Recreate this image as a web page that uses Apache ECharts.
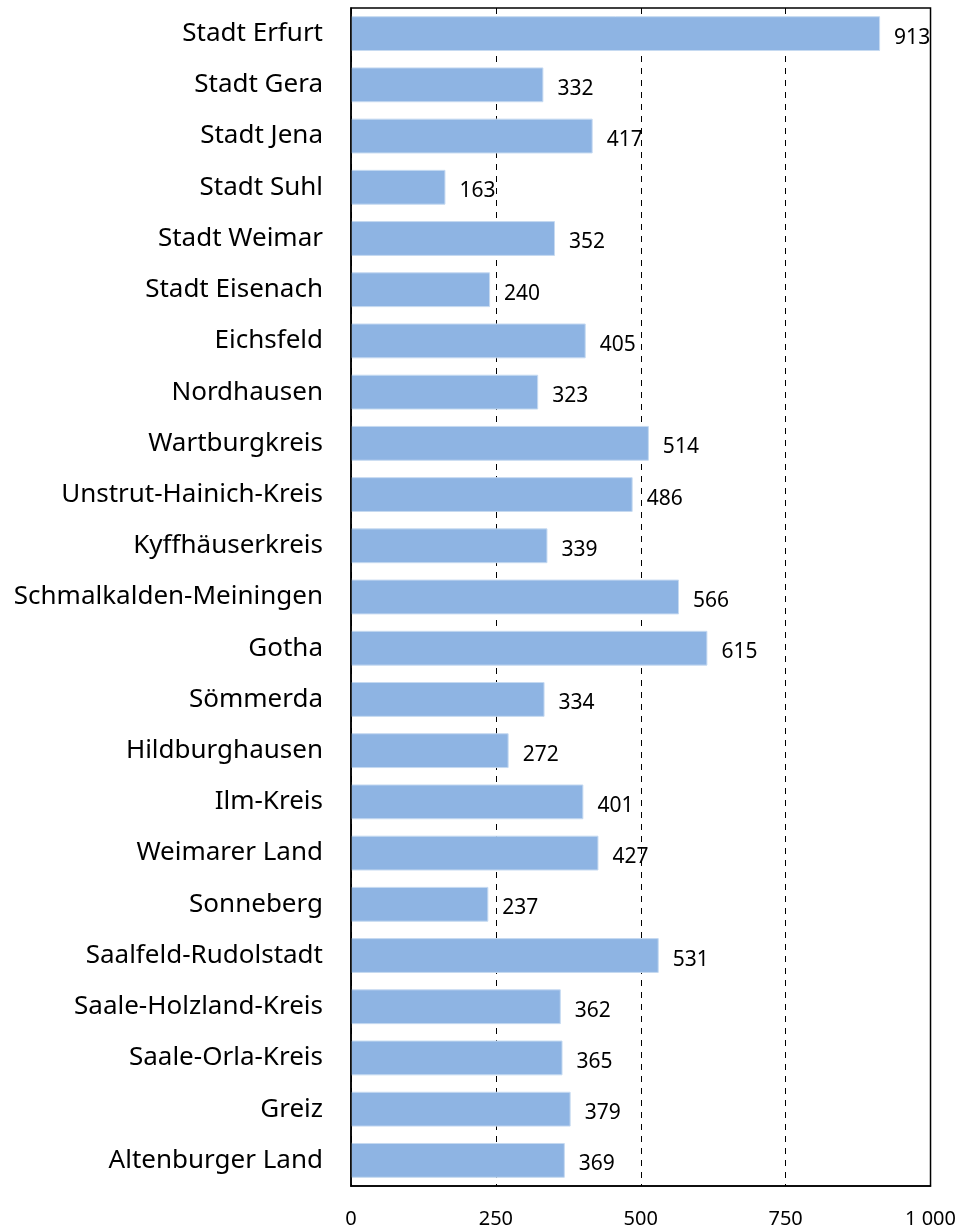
<!DOCTYPE html>
<html>
<head>
<meta charset="utf-8">
<script src="https://cdn.jsdelivr.net/npm/echarts@6/dist/echarts.min.js"></script>
<style>
  html, body { margin: 0; padding: 0; background: #fff; }
  #chart { width: 959px; height: 1229px; }
</style>
</head>
<body>
<div id="chart"></div>
<script>
const kreise = [
  'Stadt Erfurt', 'Stadt Gera', 'Stadt Jena', 'Stadt Suhl', 'Stadt Weimar',
  'Stadt Eisenach', 'Eichsfeld', 'Nordhausen', 'Wartburgkreis',
  'Unstrut-Hainich-Kreis', 'Kyffhäuserkreis', 'Schmalkalden-Meiningen',
  'Gotha', 'Sömmerda', 'Hildburghausen', 'Ilm-Kreis', 'Weimarer Land',
  'Sonneberg', 'Saalfeld-Rudolstadt', 'Saale-Holzland-Kreis',
  'Saale-Orla-Kreis', 'Greiz', 'Altenburger Land'
]
const werte = [
  913, 332, 417, 163, 352, 240, 405, 323, 514, 486, 339, 566,
  615, 334, 272, 401, 427, 237, 531, 362, 365, 379, 369
]
const xTicks = [0, 250, 500, 750, 1000]

const fontFam = '"Noto Sans", sans-serif'
const chart = echarts.init(document.getElementById('chart'))

const option = {
  animation: false,
  grid: { left: 351, right: 27, top: 8, bottom: 43, containLabel: false },
  xAxis: {
    type: 'value',
    min: xTicks[0],
    max: xTicks[xTicks.length - 1],
    interval: 250,
    axisLine: { show: true, lineStyle: { color: '#000', width: 1.5 } },
    axisTick: { show: false },
    axisLabel: {
      color: '#000', fontSize: 20, fontFamily: fontFam, margin: 23,
      formatter: (v) => v >= 1000 ? String(v).replace(/\B(?=(\d{3})+(?!\d))/g, ' ') : String(v)
    },
    splitLine: { show: true, lineStyle: { color: '#000', type: [6, 6], width: 1 } }
  },
  yAxis: {
    type: 'category',
    data: kreise,
    inverse: true,
    axisLine: { show: true, lineStyle: { color: '#000', width: 1.5 } },
    axisTick: { show: false },
    axisLabel: { color: '#000', fontSize: 26, fontFamily: fontFam, margin: 28 }
  },
  series: [{
    type: 'bar',
    data: werte,
    barCategoryGap: '32%',
    itemStyle: { color: '#8eb4e3', borderColor: '#c6daf1', borderWidth: 1 },
    label: {
      show: true,
      position: 'right',
      distance: 14,
      offset: [0, 4],
      color: '#000',
      fontSize: 21,
      fontFamily: fontFam
    }
  }],
  graphic: []
}

chart.setOption(option)

// Rahmen um die Zeichenfläche
const r = chart.getModel().getComponent('grid').coordinateSystem.getRect()
chart.setOption({
  graphic: [{
    type: 'rect',
    shape: { x: r.x, y: r.y, width: r.width, height: r.height },
    style: { fill: 'none', stroke: '#000', lineWidth: 1.5 },
    z: 10,
    silent: true
  }]
})
</script>
</body>
</html>
